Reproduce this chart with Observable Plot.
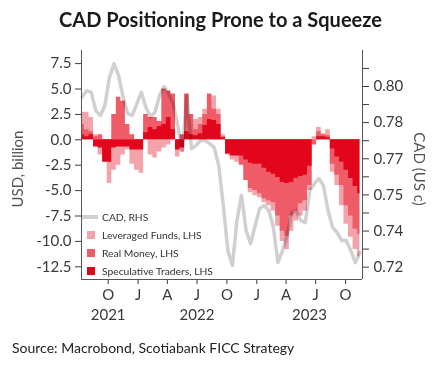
<!DOCTYPE html>
<html><head><meta charset="utf-8">
<script src="https://cdn.jsdelivr.net/npm/d3@7"></script>
<script src="https://cdn.jsdelivr.net/npm/@observablehq/plot@0.6"></script>
<style>
body{margin:0;background:#fff;font-family:Lato,"Open Sans",sans-serif;}
#wrap{position:relative;width:441px;height:372px;overflow:hidden;}
#title{height:38px;line-height:38px;text-align:center;font-weight:700;font-size:20px;color:#1a1a1a;}
#chart svg{display:block;}
.ov{position:absolute;white-space:nowrap;}
#caption{left:12px;top:339px;font-size:14px;color:#222;}
.axt{font-size:15px;color:#555;transform:translate(-50%,-50%);}
.lg{font-size:10.3px;color:#333;height:14px;line-height:14px;}
</style></head><body>
<div id="wrap">
  <div id="title">CAD Positioning Prone to a Squeeze</div>
  <div id="chart"></div>
  <div class="ov axt" id="ylab" style="left:17px;top:169px;transform:translate(-50%,-50%) rotate(-90deg);">USD, billion</div>
  <div class="ov axt" id="y2lab" style="left:420px;top:169px;transform:translate(-50%,-50%) rotate(90deg);">CAD (US c)</div>
  <div id="legend"></div>
  <div class="ov" id="caption">Source: Macrobond, Scotiabank FICC Strategy</div>
</div>
<script>
// ---- data (biweekly readings, starting 2021-07-13) ----
const firstDate = "2021-07-13";
const stepDays = 14;
const leveragedFunds = [2.7,2.7,2.2,0.5,-1.5,-2.0,-4.3,-3.0,-2.5,-1.5,
  -1.0,-2.4,-3.0,-3.3,0.5,-1.5,-1.8,-1.2,-0.8,-0.5,
  0.5,-1.7,-1.2,1.0,1.5,2.0,2.2,3.0,4.0,4.3,
  3.0,0.5,-1.5,-2.0,-2.2,-2.0,-3.0,-5.2,-5.5,-5.7,
  -6.2,-6.5,-7.0,-8.5,-10.0,-10.8,-9.0,-8.0,-7.5,-7.0,
  -5.0,0.3,1.2,0.6,1.0,-3.2,-4.5,-6.5,-8.3,-9.6,
  -10.8,-11.5];
const realMoney = [1.5,1.0,0.8,0.3,0.5,-0.5,-0.8,2.5,4.2,3.8,
  1.5,0.5,-0.2,-0.3,2.5,2.2,2.2,1.8,5.0,4.8,
  4.5,-0.3,0.5,4.5,2.5,1.0,1.5,2.5,4.5,3.0,
  2.5,0.3,-0.8,-1.2,-1.5,-2.5,-4.0,-4.8,-5.0,-5.3,
  -5.8,-6.0,-6.2,-7.5,-9.0,-9.5,-7.5,-7.0,-6.3,-6.0,
  -4.5,-0.5,0.8,0.5,0.4,-2.4,-3.5,-4.5,-6.5,-7.5,
  -8.8,-9.3];
const speculativeTraders = [0.5,0.3,0.5,-0.7,-0.8,-2.2,-2.2,-0.8,-0.7,-0.7,
  -0.7,-1.0,-1.0,-1.0,0.7,1.2,1.0,1.3,1.5,2.2,
  1.0,-1.0,-0.8,0.8,0.5,0.4,0.6,1.4,2.0,1.9,
  1.5,0.2,-1.4,-1.6,-1.6,-1.6,-2.0,-2.3,-2.4,-2.4,
  -2.8,-3.2,-3.4,-3.7,-4.2,-4.3,-4.2,-3.8,-3.6,-3.5,
  -2.6,0.0,0.3,0.3,0.2,-0.9,-1.7,-2.2,-3.0,-3.8,
  -4.6,-5.3];
const cadUsd = [0.7956,0.7983,0.7976,0.7900,0.7880,0.7921,0.8039,0.8094,0.8046,0.7956,
  0.7887,0.7880,0.7928,0.7976,0.7914,0.7873,0.7893,0.7963,0.8000,0.7970,
  0.7929,0.7838,0.7734,0.7963,0.7743,0.7755,0.7776,0.7776,0.7763,0.7747,
  0.7672,0.7506,0.7319,0.7257,0.7444,0.7548,0.7402,0.7348,0.7423,0.7494,
  0.7506,0.7485,0.7415,0.7269,0.7319,0.7381,0.7477,0.7485,0.7444,0.7435,
  0.7568,0.7597,0.7618,0.7589,0.7485,0.7415,0.7394,0.7361,0.7361,0.7319,
  0.7269,0.7311];

const leftTicks = [-12.5,-10,-7.5,-5,-2.5,0,2.5,5,7.5];
const cadTicks = [0.725,0.74,0.755,0.77,0.785,0.80];
const cadTickLabels = ["0.72","0.74","0.75","0.77","0.78","0.80"];
const cadMinorTicks = [0.7325,0.7475,0.7625,0.7775,0.7925,0.8075];
const quarterTicks = ["2021-10-01","2022-01-01","2022-04-01","2022-07-01","2022-10-01","2023-01-01","2023-04-01","2023-07-01","2023-10-01"];
const quarterLabels = ["O","J","A","J","O","J","A","J","O"];
const yearLabels = ["2021","2022","2023"];
const yearCenters = ["2021-10-01","2022-07-01","2023-06-12"];

const seriesNames = ["CAD, RHS","Leveraged Funds, LHS","Real Money, LHS","Speculative Traders, LHS"];
const colLev = "#f5a3aa", colRm = "#ef5c67", colSpec = "#e3051b", colCad = "#d0d0d0";

// ---- build ----
const xDomain = [new Date("2021-07-11"), new Date("2023-11-22")];
const yDomain = [-13.75, 8.79];
const cadToLeft = c => 5.246 - 237.1 * (0.8 - c);
const t0 = new Date(firstDate);
const rows = leveragedFunds.map((v, i) => ({
  date: d3.utcDay.offset(t0, stepDays * i),
  lev: v, rm: realMoney[i], spec: speculativeTraders[i], cad: cadToLeft(cadUsd[i])
}));
const qDates = quarterTicks.map(s => new Date(s));
const cadTickPos = cadTicks.map(cadToLeft);

const chart = Plot.plot({
  width: 441, height: 294,
  marginLeft: 81, marginRight: 79, marginTop: 12, marginBottom: 53,
  style: {fontFamily: "Lato, sans-serif", fontSize: "15px", color: "#3a3a3a", background: "white", overflow: "visible"},
  x: {type: "utc", domain: xDomain},
  y: {domain: yDomain},
  marks: [
    Plot.areaY(rows, {x: "date", y: "lev", curve: "step", fill: colLev}),
    Plot.areaY(rows, {x: "date", y: "rm", curve: "step", fill: colRm}),
    Plot.areaY(rows, {x: "date", y: "spec", curve: "step", fill: colSpec}),
    Plot.lineY(rows, {x: "date", y: "cad", stroke: colCad, strokeWidth: 3.5, mixBlendMode: "multiply"}),
    Plot.axisY(leftTicks, {anchor: "left", tickSize: 6, tickPadding: 4, tickFormat: d => d.toFixed(1), label: null}),
    Plot.axisY(cadTickPos, {anchor: "right", tickSize: 6, tickPadding: 5, label: null,
      tickFormat: d => cadTickLabels[cadTickPos.findIndex(p => Math.abs(p - d) < 1e-9)]}),
    Plot.axisY(cadMinorTicks.map(cadToLeft), {anchor: "right", tickSize: 6, tickFormat: () => "", label: null}),
    Plot.axisX(qDates, {anchor: "bottom", tickSize: 5, tickPadding: 5, label: null,
      tickFormat: d => quarterLabels[qDates.findIndex(q => +q === +d)]}),
    Plot.text(yearLabels, {x: (d, i) => new Date(yearCenters[i]), text: d => d, frameAnchor: "bottom", dy: 40, fontSize: 15, fill: "#3a3a3a"}),
    Plot.ruleX(xDomain, {stroke: "#555"}),
    Plot.ruleY([yDomain[0]], {stroke: "#555"})
  ]
});
document.getElementById("chart").appendChild(chart);

// legend
const lg = document.getElementById("legend");
const lgY = [217, 235, 253, 271];
const lgCols = [colCad, colLev, colRm, colSpec];
seriesNames.forEach((name, i) => {
  const sw = document.createElement("div");
  sw.className = "ov";
  if (i === 0) {
    sw.style.cssText = `left:82px;top:${lgY[i]-2}px;width:16px;height:4px;background:${lgCols[i]};`;
  } else {
    sw.style.cssText = `left:87px;top:${lgY[i]-4}px;width:8px;height:8px;background:${lgCols[i]};`;
  }
  lg.appendChild(sw);
  const tx = document.createElement("div");
  tx.className = "ov lg";
  tx.style.left = "102px";
  tx.style.top = (lgY[i] - 7) + "px";
  tx.textContent = name;
  lg.appendChild(tx);
});
</script>
</body></html>
